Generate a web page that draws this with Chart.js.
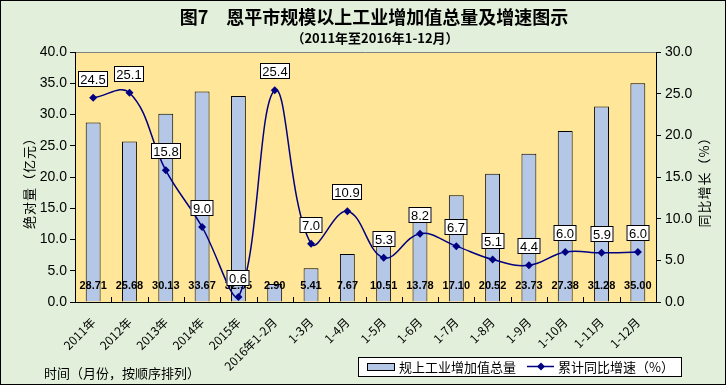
<!DOCTYPE html>
<html>
<head>
<meta charset="utf-8">
<script src="https://cdn.jsdelivr.net/npm/chart.js@4.4.0/dist/chart.umd.min.js"></script>
<style>
  html, body { margin: 0; padding: 0; background: #fff; }
  #wrap { width: 726px; height: 385px; }
</style>
</head>
<body>
<div id="wrap"><canvas id="chart" width="726" height="385"></canvas></div>
<script>
const categories = ["2011年", "2012年", "2013年", "2014年", "2015年", "2016年1-2月", "1-3月", "1-4月",
  "1-5月", "1-6月", "1-7月", "1-8月", "1-9月", "1-10月", "1-11月", "1-12月"];
const totalValue = [28.71, 25.68, 30.13, 33.67, 32.95, 2.90, 5.41, 7.67, 10.51, 13.78, 17.10, 20.52, 23.73, 27.38, 31.28, 35.00];
const growthRate = [24.5, 25.1, 15.8, 9.0, 0.6, 25.4, 7.0, 10.9, 5.3, 8.2, 6.7, 5.1, 4.4, 6.0, 5.9, 6.0];
const leftAxis = { min: 0, max: 40, step: 5 };
const rightAxis = { min: 0, max: 30, step: 5 };

const titleText = "图7　恩平市规模以上工业增加值总量及增速图示";
const subTitleText = "（2011年至2016年1-12月）";
const leftTitle = "绝对量（亿元）";
const rightTitle = "同比增长（%）";
const xTitle = "时间（月份，按顺序排列）";
const barName = "规上工业增加值总量";
const lineName = "累计同比增速（%）";

const cjk = "'Noto Sans CJK SC', sans-serif";
const num = "'Liberation Sans', Arial, sans-serif";
const outerBg = "#E2EFDA";
const plotBg = "#FFE699";
const barColor = "#B4C7E7";
const lineColor = "#000080";

const decor = {
  id: "decor",
  beforeDraw(chart) {
    const c = chart.ctx, a = chart.chartArea;
    c.save();
    c.fillStyle = outerBg;
    c.fillRect(0, 0, chart.width, chart.height);
    c.fillStyle = plotBg;
    c.fillRect(a.left, a.top, a.right - a.left, a.bottom - a.top);
    c.strokeStyle = "#808080";
    c.lineWidth = 1;
    c.beginPath();
    c.moveTo(a.left, a.top + 0.5);
    c.lineTo(a.right, a.top + 0.5);
    c.stroke();
    c.restore();
  },
  afterDatasetDraw(chart, args) {
    if (args.meta.type !== "bar") return;
    const c = chart.ctx;
    c.save();
    c.fillStyle = "#000";
    c.font = "bold 11px " + num;
    c.textAlign = "center";
    c.textBaseline = "middle";
    const ys = chart.scales.y;
    args.meta.data.forEach((bar, i) => {
      c.fillText(totalValue[i].toFixed(2), bar.x, ys.getPixelForValue(0) - 16);
    });
    c.restore();
  },
  afterDatasetsDraw(chart) {
    const c = chart.ctx, a = chart.chartArea;
    c.save();
    // small x ticks between categories, pointing up
    c.strokeStyle = "#000";
    c.lineWidth = 1;
    c.beginPath();
    for (let i = 0; i <= categories.length; i++) {
      const x = Math.round(a.left + i * (a.right - a.left) / categories.length) + 0.5;
      c.moveTo(x, a.bottom);
      c.lineTo(x, a.bottom - 5);
    }
    c.stroke();

    // growth labels in boxes
    const meta = chart.getDatasetMeta(0);
    c.font = "13px " + num;
    c.textAlign = "center";
    c.textBaseline = "middle";
    meta.data.forEach((pt, i) => {
      const t = growthRate[i].toFixed(1);
      const w = Math.round(c.measureText(t).width) + 5;
      const h = 16;
      const cx = Math.round(pt.x), cy = Math.round(pt.y - 19);
      c.fillStyle = "#fff";
      c.fillRect(cx - w / 2, cy - h / 2, w, h);
      c.strokeStyle = "#000";
      c.strokeRect(cx - w / 2 + 0.5, cy - h / 2 + 0.5, w - 1, h - 1);
      c.fillStyle = "#000";
      c.fillText(t, cx, cy + 1);
    });
    c.restore();
  },
  afterDraw(chart) {
    const c = chart.ctx;
    c.save();
    c.fillStyle = "#000";
    c.textAlign = "center";
    c.textBaseline = "middle";
    c.font = "bold 18px " + cjk;
    c.fillText(titleText, 374, 17);
    c.font = "bold 13px " + cjk;
    c.fillText(subTitleText, 375, 38);

    c.font = "13px " + cjk;
    c.letterSpacing = "1px";
    c.save();
    c.translate(29, 180);
    c.rotate(-Math.PI / 2);
    c.fillText(leftTitle, 0, 0);
    c.restore();
    c.save();
    c.translate(704, 179);
    c.rotate(-Math.PI / 2);
    c.fillText(rightTitle, 0, 0);
    c.restore();
    c.letterSpacing = "0px";

    c.textAlign = "left";
    c.fillText(xTitle, 44, 373);

    // legend
    c.fillStyle = "#fff";
    c.fillRect(358, 357, 324, 20);
    c.strokeStyle = "#000";
    c.lineWidth = 1;
    c.strokeRect(358.5, 357.5, 323, 19);
    c.fillStyle = barColor;
    c.fillRect(367, 363, 28, 8);
    c.strokeRect(367.5, 363.5, 27, 7);
    c.fillStyle = "#000";
    c.fillText(barName, 399, 367);
    c.strokeStyle = lineColor;
    c.lineWidth = 1.5;
    c.beginPath();
    c.moveTo(527, 366.5);
    c.lineTo(554, 366.5);
    c.stroke();
    c.fillStyle = lineColor;
    c.beginPath();
    c.moveTo(541, 362.5);
    c.lineTo(545, 366.5);
    c.lineTo(541, 370.5);
    c.lineTo(537, 366.5);
    c.closePath();
    c.fill();
    c.fillStyle = "#000";
    c.fillText(lineName, 558, 367);

    // outer border
    c.strokeStyle = "#000";
    c.lineWidth = 1;
    c.strokeRect(0.5, 0.5, chart.width - 1, chart.height - 1);
    c.restore();
  }
};

new Chart(document.getElementById("chart").getContext("2d"), {
  type: "bar",
  data: {
    labels: categories,
    datasets: [
      {
        type: "line",
        label: lineName,
        data: growthRate,
        yAxisID: "y1",
        order: 0,
        borderColor: lineColor,
        borderWidth: 1.5,
        backgroundColor: lineColor,
        pointStyle: "rectRot",
        pointRadius: 4,
        pointBackgroundColor: lineColor,
        pointBorderWidth: 0,
        tension: 0.4,
        fill: false
      },
      {
        type: "bar",
        label: barName,
        data: totalValue,
        yAxisID: "y",
        order: 1,
        backgroundColor: barColor,
        borderColor: "#000",
        borderWidth: 1,
        categoryPercentage: 1,
        barPercentage: 0.41
      }
    ]
  },
  options: {
    responsive: false,
    animation: false,
    devicePixelRatio: 1,
    layout: { padding: { top: 52, left: 0, right: 0, bottom: 0 } },
    plugins: { legend: { display: false }, tooltip: { enabled: false } },
    scales: {
      x: {
        offset: true,
        grid: { display: false, drawTicks: false },
        border: { color: "#000", width: 1 },
        ticks: {
          color: "#000",
          font: { family: cjk, size: 12 },
          minRotation: 45,
          maxRotation: 45,
          padding: 13,
          autoSkip: false
        },
        afterFit(s) { s.height = 83; }
      },
      y: {
        position: "left",
        min: leftAxis.min,
        max: leftAxis.max,
        grid: { drawOnChartArea: false, color: "#000", tickLength: 5 },
        border: { color: "#000", width: 1 },
        ticks: {
          stepSize: leftAxis.step,
          color: "#000",
          padding: 3,
          font: { family: num, size: 14 },
          callback: v => v.toFixed(1)
        },
        afterFit(s) { s.width = 75; }
      },
      y1: {
        position: "right",
        min: rightAxis.min,
        max: rightAxis.max,
        grid: { drawOnChartArea: false, color: "#000", tickLength: 5 },
        border: { color: "#000", width: 1 },
        ticks: {
          stepSize: rightAxis.step,
          color: "#000",
          padding: 4,
          font: { family: num, size: 14 },
          callback: v => v.toFixed(1)
        },
        afterFit(s) { s.width = 70; }
      }
    }
  },
  plugins: [decor]
});
</script>
</body>
</html>
